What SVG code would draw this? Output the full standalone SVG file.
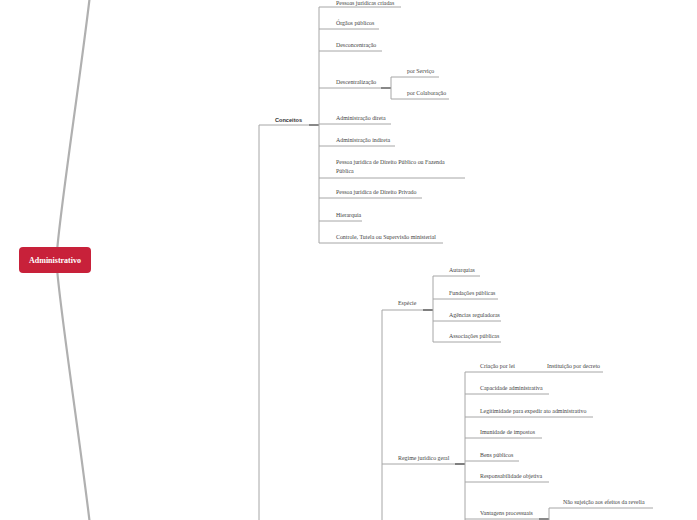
<svg xmlns="http://www.w3.org/2000/svg" width="697" height="520" viewBox="0 0 697 520">
<style>
.ln{fill:none;stroke:#a6a6a6;stroke-width:1}
.st{fill:none;stroke:#555;stroke-width:1.4}
.br{fill:none;stroke:#b0b0b0;stroke-width:2.2}
.t{font-family:"Liberation Serif","Times New Roman",serif;font-size:5.9px;fill:#444}
.c{font-family:"Liberation Sans",Arial,sans-serif;font-size:5.6px;font-weight:bold;fill:#333}
</style>
<rect width="697" height="520" fill="#fff"/>
<g id="connectors">
<path class="br" d="M57,252 C60,210 80,80 90,-5"/>
<path class="br" d="M57,268 C60,310 80,440 90,525"/>
<path class="ln" d="M259,125 V520 M259,125 H309"/>
<path class="st" d="M309,125 H319"/>
<path class="ln" d="M319,7 V243"/>
<path class="ln" d="M319,7 H401 M319,29 H379 M319,51 H382 M319,88 H381 M319,124 H391 M319,146 H395 M319,178 H465 M319,198 H422 M319,221 H362 M319,243 H443"/>
<path class="st" d="M381,88 H391"/>
<path class="ln" d="M391,77 V99 M391,77 H439 M391,99 H449"/>
<path class="ln" d="M382,310 V520 M382,310 H423 M382,464 H455"/>
<path class="st" d="M423,310 H433 M455,464 H465"/>
<path class="ln" d="M433,276 V342 M433,276 H480 M433,299 H498 M433,321 H501 M433,342 H501"/>
<path class="ln" d="M465,372 V520 M465,372 H603 M465,394 H549 M465,417 H593 M465,438 H542 M465,461 H519 M465,482 H549 M465,519 H539"/>
<path class="st" d="M539,519 H549"/>
<path class="ln" d="M549,508 V520 M549,508 H653"/>
</g>
<g id="root">
<rect x="19" y="247" width="72" height="26" rx="4" fill="#c8213a"/>
<text x="55" y="263" text-anchor="middle" font-family="Liberation Serif,Times New Roman,serif" font-size="8" font-weight="bold" fill="#fff">Administrativo</text>
</g>
<g id="conceitos"><text class="c" x="275" y="122">Conceitos</text></g>
<g id="n1"><text class="t" x="336" y="4.5">Pessoas jurídicas criadas</text></g>
<g id="n2"><text class="t" x="336" y="25">Órgãos públicos</text></g>
<g id="n3"><text class="t" x="336" y="47">Desconcentração</text></g>
<g id="n4"><text class="t" x="336" y="84">Descentralização</text></g>
<g id="n4a"><text class="t" x="407" y="73">por Serviço</text></g>
<g id="n4b"><text class="t" x="407" y="95">por Colaboração</text></g>
<g id="n5"><text class="t" x="336" y="120">Administração direta</text></g>
<g id="n6"><text class="t" x="336" y="142">Administração indireta</text></g>
<g id="n7"><text class="t" x="336" y="164">Pessoa jurídica de Direito Público ou Fazenda</text><text class="t" x="336" y="173">Pública</text></g>
<g id="n8"><text class="t" x="336" y="194">Pessoa jurídica de Direito Privado</text></g>
<g id="n9"><text class="t" x="336" y="217">Hierarquia</text></g>
<g id="n10"><text class="t" x="336" y="239">Controle, Tutela ou Supervisão ministerial</text></g>
<g id="especie"><text class="t" x="398" y="305">Espécie</text></g>
<g id="e1"><text class="t" x="449" y="272">Autarquias</text></g>
<g id="e2"><text class="t" x="449" y="295">Fundações públicas</text></g>
<g id="e3"><text class="t" x="449" y="317">Agências reguladoras</text></g>
<g id="e4"><text class="t" x="449" y="338">Associações públicas</text></g>
<g id="regime"><text class="t" x="398" y="460">Regime jurídico geral</text></g>
<g id="r1"><text class="t" x="480" y="368">Criação por lei</text></g>
<g id="r1a"><text class="t" x="547" y="368">Instituição por decreto</text></g>
<g id="r2"><text class="t" x="480" y="390">Capacidade administrativa</text></g>
<g id="r3"><text class="t" x="480" y="413">Legitimidade para expedir ato administrativo</text></g>
<g id="r4"><text class="t" x="480" y="434">Imunidade de impostos</text></g>
<g id="r5"><text class="t" x="480" y="457">Bens públicos</text></g>
<g id="r6"><text class="t" x="480" y="478">Responsabilidade objetiva</text></g>
<g id="r7"><text class="t" x="480" y="515">Vantagens processuais</text></g>
<g id="r7a"><text class="t" x="563" y="504">Não sujeição aos efeitos da revelia</text></g>
</svg>
